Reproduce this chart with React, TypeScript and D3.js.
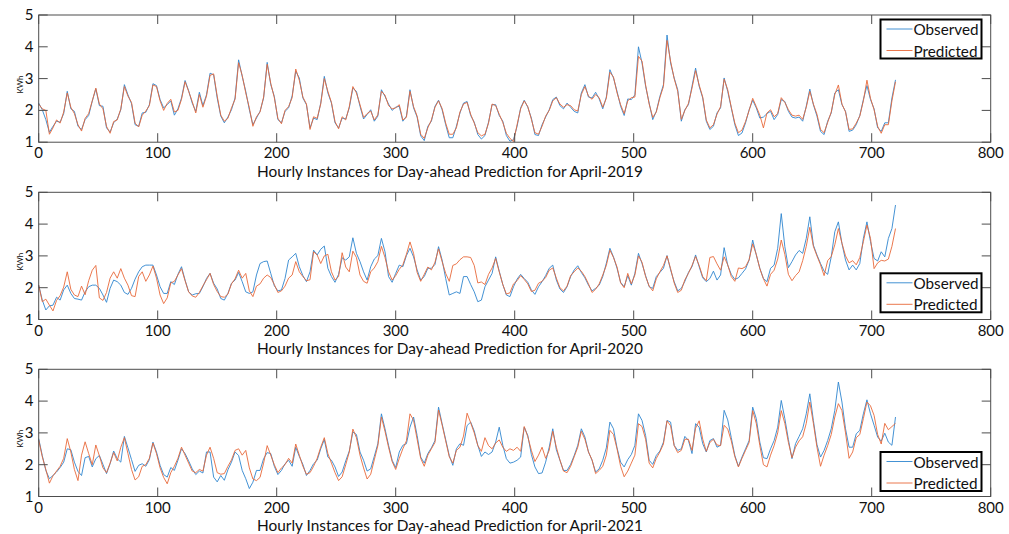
import React from 'react';
import * as d3 from 'd3';

const obs2019 = [
  2.23, 2.02, 1.71, 1.31, 1.5, 1.66, 1.63, 1.9,
  2.6, 2.05, 1.97, 1.5, 1.4, 1.71, 1.84, 2.29,
  2.68, 2.15, 2.13, 1.45, 1.32, 1.61, 1.73, 2.02,
  2.81, 2.49, 2.21, 1.55, 1.5, 1.92, 1.94, 2.18,
  2.84, 2.78, 2.34, 2.08, 2.18, 2.3, 1.85, 2.05,
  2.39, 2.94, 2.62, 2.23, 1.97, 2.57, 2.15, 2.49,
  3.17, 3.12, 2.39, 1.82, 1.61, 1.79, 2.02, 2.39,
  3.59, 3.07, 2.6, 2.02, 1.55, 1.76, 1.97, 2.39,
  3.51, 2.81, 2.44, 1.71, 1.61, 1.97, 2.08, 2.46,
  3.23, 3.02, 2.39, 2.18, 1.45, 1.76, 1.71, 2.23,
  3.07, 2.55, 2.23, 1.61, 1.45, 1.76, 1.73, 2.08,
  2.7, 2.6, 2.13, 1.73, 1.87, 2.02, 1.66, 1.82,
  2.65, 2.44, 2.2, 2.0, 2.1, 2.13, 1.66, 1.82,
  2.65, 2.08, 1.79, 1.2, 1.05, 1.5, 1.66, 2.13,
  2.32, 2.02, 1.55, 1.14, 1.14, 1.5, 1.92, 2.23,
  2.28, 1.84, 1.63, 1.24, 1.1, 1.21, 1.63, 2.18,
  2.18, 1.84, 1.66, 1.21, 1.03, 1.08, 1.5, 2.08,
  2.32, 2.1, 1.76, 1.24, 1.21, 1.55, 1.79, 2.02,
  2.34, 2.42, 2.15, 2.05, 2.23, 2.1, 1.97, 1.92,
  2.55, 2.81, 2.42, 2.39, 2.57, 2.36, 2.05, 2.42,
  3.28, 3.02, 2.6, 2.13, 1.84, 2.36, 2.34, 2.49,
  4.0, 3.49, 2.76, 2.23, 1.71, 1.97, 2.44, 2.81,
  4.37, 3.49, 3.02, 2.65, 1.66, 2.02, 2.18, 2.76,
  3.33, 2.76, 2.39, 1.66, 1.4, 1.5, 1.92, 2.08,
  3.02, 2.6, 2.08, 1.55, 1.21, 1.29, 1.61, 2.02,
  2.32, 2.08, 1.76, 1.79, 1.9, 1.97, 1.71, 1.87,
  2.34, 2.28, 1.97, 1.79, 1.76, 1.79, 1.66, 2.13,
  2.67, 2.18, 1.82, 1.34, 1.24, 1.66, 1.92, 2.55,
  2.65, 2.18, 1.97, 1.34, 1.38, 1.55, 1.84, 2.34,
  2.78, 2.34, 2.05, 1.45, 1.34, 1.61, 1.61, 2.39,
  2.96,
];
const pred2019 = [
  2.2, 2.05, 2.0, 1.25, 1.45, 1.7, 1.6, 1.95,
  2.55, 2.1, 1.9, 1.55, 1.35, 1.75, 1.9, 2.3,
  2.7, 2.2, 2.05, 1.5, 1.28, 1.65, 1.7, 2.05,
  2.75, 2.45, 2.25, 1.6, 1.48, 1.85, 1.98, 2.15,
  2.8, 2.75, 2.3, 2.0, 2.22, 2.35, 1.95, 2.0,
  2.35, 2.9, 2.6, 2.28, 1.92, 2.5, 2.1, 2.45,
  3.1, 3.15, 2.45, 1.85, 1.66, 1.75, 2.08, 2.35,
  3.5, 3.1, 2.55, 2.08, 1.5, 1.8, 1.95, 2.42,
  3.45, 2.85, 2.4, 1.75, 1.58, 2.0, 2.12, 2.4,
  3.3, 2.95, 2.42, 2.2, 1.4, 1.8, 1.75, 2.2,
  3.0, 2.6, 2.25, 1.65, 1.42, 1.8, 1.7, 2.12,
  2.75, 2.55, 2.18, 1.78, 1.9, 1.98, 1.7, 1.86,
  2.6, 2.48, 2.15, 2.05, 2.08, 2.18, 1.7, 1.78,
  2.6, 2.12, 1.82, 1.25, 1.12, 1.45, 1.7, 2.1,
  2.3, 2.06, 1.6, 1.25, 1.25, 1.45, 1.95, 2.2,
  2.25, 1.88, 1.6, 1.3, 1.2, 1.25, 1.6, 2.2,
  2.15, 1.88, 1.62, 1.28, 1.12, 1.02, 1.55, 2.05,
  2.3, 2.12, 1.72, 1.3, 1.25, 1.5, 1.82, 2.0,
  2.3, 2.4, 2.2, 2.1, 2.18, 2.15, 2.02, 1.98,
  2.5, 2.75, 2.45, 2.35, 2.5, 2.4, 2.1, 2.38,
  3.2, 3.05, 2.55, 2.18, 1.9, 2.3, 2.4, 2.42,
  3.7, 3.55, 2.8, 2.2, 1.78, 1.95, 2.4, 2.75,
  4.2, 3.55, 3.0, 2.6, 1.72, 2.0, 2.22, 2.7,
  3.25, 2.8, 2.42, 1.7, 1.45, 1.55, 1.88, 2.12,
  2.98, 2.65, 2.1, 1.6, 1.3, 1.38, 1.65, 2.0,
  2.38, 2.12, 1.85, 1.45, 1.92, 2.02, 1.8, 1.9,
  2.4, 2.25, 2.02, 1.85, 1.82, 1.85, 1.72, 2.1,
  2.6, 2.2, 1.88, 1.4, 1.3, 1.62, 1.95, 2.5,
  2.8, 2.2, 1.95, 1.4, 1.42, 1.6, 1.82, 2.3,
  2.95, 2.38, 2.02, 1.5, 1.28, 1.55, 1.55, 2.3,
  2.9,
];
const obs2020 = [
  2.08, 1.61, 1.3, 1.43, 1.45, 1.7, 1.61, 1.93,
  2.08, 1.82, 1.66, 1.64, 1.61, 1.87, 2.03, 2.08,
  2.08, 1.98, 1.77, 1.54, 1.98, 2.24, 2.19, 2.08,
  1.85, 1.79, 1.98, 2.27, 2.5, 2.66, 2.71, 2.71,
  2.71, 2.4, 2.03, 1.82, 1.82, 2.19, 2.1, 2.42,
  2.66, 2.24, 1.87, 1.77, 1.81, 1.82, 2.03, 2.29,
  2.45, 2.14, 1.96, 1.66, 1.61, 1.82, 2.14, 2.24,
  2.48, 2.19, 1.87, 1.82, 1.87, 2.4, 2.76, 2.82,
  2.84, 2.45, 2.06, 1.9, 1.93, 2.29, 2.87, 2.97,
  3.08, 2.66, 2.38, 2.19, 2.5, 3.18, 3.03, 3.21,
  3.31, 2.61, 2.35, 2.17, 2.42, 2.94, 2.87, 2.97,
  3.57, 3.08, 2.82, 2.5, 2.24, 2.66, 2.9, 3.01,
  3.55, 3.13, 2.35, 2.17, 2.45, 2.71, 2.66, 3.01,
  3.24, 2.97, 2.56, 2.24, 2.35, 2.61, 2.61, 2.73,
  3.29, 2.87, 2.29, 1.77, 1.82, 1.87, 1.82, 2.35,
  2.35, 2.1, 1.87, 1.56, 1.61, 2.03, 2.24, 2.45,
  2.97, 2.52, 2.1, 1.77, 1.72, 2.03, 2.27, 2.42,
  2.29, 2.17, 1.93, 1.79, 2.03, 2.19, 2.38, 2.61,
  2.71, 2.24, 1.96, 1.85, 2.03, 2.35, 2.56, 2.69,
  2.48, 2.31, 2.08, 1.9, 1.98, 2.08, 2.35, 2.77,
  3.24, 2.97, 2.61, 2.17, 2.03, 2.38, 2.08, 2.45,
  3.08, 2.76, 2.38, 2.03, 1.98, 2.35, 2.48, 2.61,
  3.01, 2.56, 2.19, 1.9, 1.98, 2.2, 2.48, 2.66,
  3.03, 2.66, 2.31, 2.19, 2.29, 2.52, 2.24, 2.4,
  3.26, 2.71, 2.42, 2.26, 2.31, 2.45, 2.59, 2.87,
  3.5, 3.03, 2.61, 2.29, 2.19, 2.61, 2.71, 3.24,
  4.33, 3.29, 2.63, 2.82, 3.03, 3.17, 3.08, 3.55,
  4.23, 3.34, 3.03, 2.76, 2.52, 2.42, 2.97, 3.76,
  4.07, 3.39, 2.87, 2.56, 2.71, 2.56, 2.76, 3.55,
  4.07, 3.45, 2.92, 2.84, 3.13, 2.97, 3.55, 3.86,
  4.6,
];
const pred2020 = [
  2.08, 1.56, 1.64, 1.45, 1.27, 1.6, 1.75, 2.02,
  2.5, 1.95, 1.77, 1.72, 2.05, 1.78, 2.22, 2.55,
  2.7, 1.68, 1.6, 1.85, 2.3, 2.5, 2.3, 2.6,
  2.3, 2.08, 1.75, 1.72, 2.35, 2.5, 2.2, 2.4,
  2.68, 2.3, 1.77, 1.5, 1.68, 2.15, 2.2, 2.4,
  2.6, 2.22, 1.87, 1.74, 1.7, 1.85, 2.06, 2.25,
  2.45, 2.1, 1.88, 1.72, 1.7, 1.8, 2.12, 2.28,
  2.55, 2.3, 2.45, 1.9, 1.72, 2.05, 2.12, 2.3,
  2.4, 2.32, 2.1, 1.85, 1.9, 2.05, 2.3, 2.4,
  2.82, 2.5, 2.35, 2.22, 2.25, 3.13, 3.03, 2.76,
  3.0, 3.05, 2.5, 2.24, 2.35, 3.1, 2.65, 2.5,
  3.15, 2.95, 2.4, 2.2, 2.14, 2.5, 2.62, 2.82,
  3.3, 2.95, 2.5, 2.24, 2.38, 2.58, 2.72, 3.05,
  3.44, 3.08, 2.48, 2.2, 2.42, 2.65, 2.56, 2.8,
  3.22, 2.82, 2.45, 2.2, 2.7, 2.75, 2.88, 2.97,
  2.97, 2.95, 2.7, 2.15, 2.18, 2.1, 2.42, 2.62,
  2.92, 2.5, 2.1, 1.8, 1.84, 2.12, 2.22, 2.38,
  2.26, 2.12, 1.88, 1.92, 2.14, 2.2, 2.32, 2.55,
  2.62, 2.3, 2.0, 1.9, 2.05, 2.38, 2.5, 2.62,
  2.52, 2.35, 2.12, 1.85, 1.95, 2.12, 2.4, 2.7,
  3.18, 2.95, 2.65, 2.15, 2.0, 2.45, 2.12, 2.4,
  3.0, 2.8, 2.35, 2.05, 1.9, 2.28, 2.5, 2.7,
  3.0, 2.6, 2.15, 1.85, 1.92, 2.25, 2.45, 2.7,
  2.98, 2.7, 2.35, 2.22, 2.95, 2.98, 2.75, 2.55,
  2.97, 2.72, 2.35, 2.2, 2.62, 2.6, 2.66, 2.88,
  3.38, 3.05, 2.6, 2.28, 2.05, 2.42, 2.55, 2.9,
  3.5, 3.05, 2.42, 2.22, 2.38, 2.5, 2.85, 3.3,
  3.9, 3.3, 3.0, 2.72, 2.38, 2.85, 2.98, 3.35,
  3.86, 3.4, 3.0, 2.78, 2.85, 2.72, 2.95, 3.45,
  3.97, 3.55, 2.6, 2.78, 2.86, 2.84, 2.9, 3.3,
  3.86,
];
const obs2021 = [
  2.82, 2.29, 1.82, 1.56, 1.66, 1.77, 1.91, 2.08,
  2.5, 2.47, 2.08, 1.79, 1.66, 2.22, 2.26, 1.93,
  2.19, 2.29, 2.01, 1.72, 2.03, 2.43, 2.19, 2.08,
  2.89, 2.53, 2.16, 1.79, 1.98, 2.03, 1.95, 2.16,
  2.71, 2.4, 1.98, 1.69, 1.61, 1.91, 1.82, 2.14,
  2.5, 2.35, 2.12, 1.87, 1.69, 1.8, 1.74, 2.4,
  2.4, 1.61, 1.46, 1.66, 1.51, 1.84, 2.08, 2.4,
  2.29, 1.82, 1.56, 1.25, 1.45, 1.82, 1.82, 2.19,
  2.38, 2.35, 1.95, 1.69, 1.82, 2.03, 2.14, 1.95,
  2.55, 2.26, 2.01, 1.66, 1.82, 2.03, 2.14, 2.5,
  2.79, 2.24, 2.14, 1.93, 1.63, 1.77, 2.12, 2.43,
  3.03, 2.95, 2.4, 2.14, 1.8, 1.87, 2.26, 2.66,
  3.6, 3.13, 2.61, 2.14, 1.91, 2.4, 2.61, 2.66,
  3.18, 3.5, 2.92, 2.24, 2.05, 2.35, 2.53, 2.76,
  3.81, 3.29, 2.79, 2.29, 1.98, 2.5, 2.66, 2.61,
  3.23, 3.34, 3.06, 2.61, 2.26, 2.4, 2.32, 2.4,
  2.71, 3.18, 2.61, 2.19, 2.05, 2.08, 2.14, 2.24,
  3.18, 2.92, 2.32, 1.93, 1.72, 1.74, 2.08, 2.55,
  3.13, 2.47, 2.14, 1.82, 1.82, 2.01, 2.29, 2.61,
  3.13, 2.87, 2.4, 2.14, 1.77, 1.87, 2.14, 2.53,
  3.34, 3.13, 2.53, 2.08, 1.93, 2.16, 2.32, 2.61,
  3.6, 3.39, 2.92, 2.14, 2.01, 2.29, 2.43, 2.71,
  3.39, 3.34, 2.61, 2.45, 2.5, 2.89, 2.76, 2.35,
  3.29, 3.18, 2.66, 2.4, 2.76, 2.82, 2.55, 2.61,
  3.71, 3.41, 2.85, 2.29, 1.95, 2.24, 2.5, 2.76,
  3.81, 3.45, 2.71, 2.22, 2.19, 2.5, 2.76, 3.18,
  4.02, 3.45, 2.79, 2.19, 2.66, 2.89, 3.13, 3.6,
  4.23, 3.39, 2.63, 2.24, 2.45, 2.76, 3.13, 3.71,
  4.6, 3.97, 3.13, 2.55, 2.55, 2.97, 3.08, 3.6,
  4.04, 3.6, 3.24, 2.87, 2.74, 2.99, 2.71, 2.61,
  3.5,
];
const pred2021 = [
  2.78, 2.25, 1.85, 1.42, 1.65, 1.8, 1.95, 2.2,
  2.82, 2.4, 1.85, 1.5, 2.3, 2.72, 2.35, 2.0,
  2.62, 2.28, 1.9, 1.75, 2.05, 2.38, 2.12, 2.55,
  2.85, 2.35, 1.85, 1.52, 1.62, 1.95, 2.0, 2.2,
  2.68, 2.35, 1.9, 1.6, 1.4, 1.75, 1.95, 2.2,
  2.55, 2.3, 2.05, 1.8, 1.75, 1.85, 1.8, 2.3,
  2.55, 2.2, 1.75, 1.7, 1.72, 1.95, 2.15, 2.45,
  2.5, 2.3, 2.45, 1.9, 1.55, 1.5, 1.6, 2.05,
  2.6, 2.3, 2.0, 1.75, 1.9, 2.0, 2.2, 2.05,
  2.65, 2.3, 1.95, 1.7, 1.75, 1.95, 2.2, 2.55,
  2.85, 2.35, 2.05, 1.75, 1.5, 1.62, 2.0, 2.4,
  3.12, 2.85, 2.3, 1.9, 1.55, 1.7, 2.15, 2.6,
  3.5, 3.05, 2.55, 2.1, 1.85, 2.2, 2.5, 2.75,
  3.6, 3.4, 2.8, 2.2, 1.95, 2.3, 2.5, 2.7,
  3.72, 3.25, 2.75, 2.25, 2.05, 2.45, 2.55, 2.9,
  3.62, 3.32, 3.0, 2.6, 2.42, 2.85, 2.6, 2.5,
  2.68, 2.78, 2.55, 2.42, 2.5, 2.45, 2.55, 2.42,
  3.2, 2.88, 2.45, 2.1, 2.3, 2.55, 2.2, 2.45,
  3.05, 2.55, 2.15, 1.8, 1.75, 1.95, 2.25, 2.55,
  3.05, 2.8, 2.4, 2.15, 1.72, 1.82, 1.95, 2.3,
  3.08, 2.95, 2.5, 1.95, 1.62, 1.8, 2.05, 2.3,
  3.29, 3.2, 2.8, 2.05, 1.9, 2.2, 2.4, 2.65,
  3.38, 3.22, 2.6, 2.38, 2.45, 2.8, 2.8, 2.45,
  3.15, 3.38, 2.8, 2.42, 2.7, 2.8, 2.62, 2.6,
  3.24, 3.12, 2.75, 2.25, 1.93, 2.2, 2.45, 2.7,
  3.7, 3.3, 2.6, 2.0, 1.93, 2.3, 2.6, 3.0,
  3.7, 3.3, 2.7, 2.22, 2.55, 2.75, 2.88, 3.3,
  3.97, 3.3, 2.55, 1.95, 2.3, 2.6, 2.95, 3.5,
  3.92, 3.7, 3.0, 2.2, 2.4, 2.85, 2.95, 3.45,
  3.97, 3.85, 3.55, 2.95, 2.65, 3.3, 3.1, 3.2,
  3.3,
];

const stepHours = 3;
const xTicks = [0, 100, 200, 300, 400, 500, 600, 700, 800];
const yTicks = [1, 2, 3, 4, 5];
const xLabels = [
  'Hourly Instances for Day-ahead Prediction for April-2019',
  'Hourly Instances for Day-ahead Prediction for April-2020',
  'Hourly Instances for Day-ahead Prediction for April-2021',
];
const seriesNames = ['Observed', 'Predicted'];

const panels = [
  { obs: obs2019, pred: pred2019, top: 15, legendTop: 19.5 },
  { obs: obs2020, pred: pred2020, top: 192.3, legendTop: 273.3 },
  { obs: obs2021, pred: pred2021, top: 369.3, legendTop: 452 },
];

const W = 1009;
const H = 534;
const left = 38.7;
const right = 990.7;
const plotH = 127.2;
const blue = '#2f86cf';
const orange = '#e8693a';
const axisCol = '#4d4d4d';
const font = 'Lato, "Open Sans", sans-serif';

function Panel({ obs, pred, top, legendTop, label }) {
  const bottom = top + plotH;
  const x = d3.scaleLinear().domain([0, 800]).range([left, right]);
  const y = d3.scaleLinear().domain([1, 5]).range([bottom, top]);
  const line = d3.line<number>().x((_, i) => x(i * stepHours)).y((d) => y(d));
  const tl = 9;

  const legLeft = 880.5;
  const legW = 101;
  const legH = 39;

  return (
    <g>
      <rect x={left} y={top} width={right - left} height={plotH} fill="#fff" />
      <path d={line(obs) || ''} fill="none" stroke={blue} strokeWidth={0.9} />
      <path d={line(pred) || ''} fill="none" stroke={orange} strokeWidth={0.9} />
      <rect x={left} y={top} width={right - left} height={plotH} fill="none" stroke={axisCol} strokeWidth={1} />
      {xTicks.map((t) => (
        <g key={'x' + t}>
          <line x1={x(t)} x2={x(t)} y1={bottom} y2={bottom - tl} stroke={axisCol} />
          <line x1={x(t)} x2={x(t)} y1={top} y2={top + tl} stroke={axisCol} />
          <text x={x(t)} y={bottom + 16} textAnchor="middle" fontSize={15} fontFamily={font} fill="#111">{t}</text>
        </g>
      ))}
      {yTicks.map((t) => (
        <g key={'y' + t}>
          <line x1={left} x2={left + tl} y1={y(t)} y2={y(t)} stroke={axisCol} />
          <line x1={right} x2={right - tl} y1={y(t)} y2={y(t)} stroke={axisCol} />
          <text x={33.5} y={y(t) + 5} textAnchor="end" fontSize={15} fontFamily={font} fill="#111">{t}</text>
        </g>
      ))}
      <text
        transform={`translate(23,${top + 69.5}) rotate(-90)`}
        textAnchor="middle"
        fontSize={8}
        fontFamily={font}
        fill="#111"
      >KWh</text>
      <text x={257} y={bottom + 34.5} fontSize={15} fontFamily={font} fill="#111" textLength={386} lengthAdjust="spacingAndGlyphs">{label}</text>

      <rect x={legLeft} y={legendTop} width={legW} height={legH} fill="#fff" stroke="#000" strokeWidth={2} />
      {seriesNames.map((name, i) => {
        const ly = legendTop + (i === 0 ? 9.5 : 31);
        return (
          <g key={name}>
            <line x1={legLeft + 6} x2={legLeft + 32} y1={ly} y2={ly} stroke={i === 0 ? blue : orange} strokeWidth={0.9} />
            <text x={legLeft + 33} y={ly + 6} fontSize={16} fontFamily={font} fill="#111" textLength={i === 0 ? 65 : 64} lengthAdjust="spacingAndGlyphs">{name}</text>
          </g>
        );
      })}
    </g>
  );
}

export default function App() {
  return (
    <div style={{ position: 'absolute', left: 0, top: 0 }}>
      <svg width={W} height={H} style={{ display: 'block', background: '#fff' }}>
        {panels.map((p, i) => (
          <Panel key={i} obs={p.obs} pred={p.pred} top={p.top} legendTop={p.legendTop} label={xLabels[i]} />
        ))}
      </svg>
    </div>
  );
}
